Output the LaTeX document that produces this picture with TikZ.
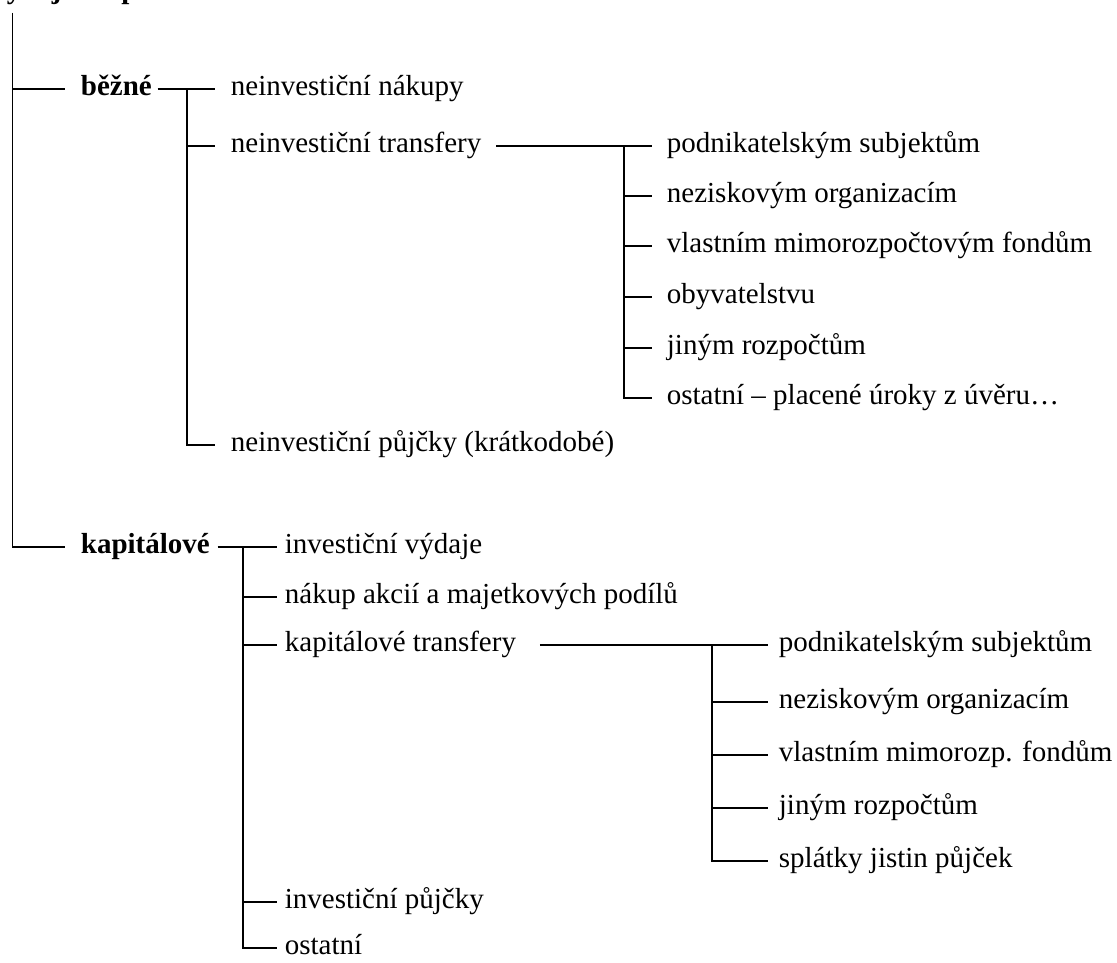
\documentclass[tikz,border=0pt]{standalone}
\usepackage{fontspec}
\setmainfont{Liberation Serif}
\begin{document}
\fontsize{29}{35}\selectfont
\begin{tikzpicture}[x=1pt, y=-1pt, line width=1.8pt,
		every node/.style={inner sep=0pt, anchor=mid west},
		head/.style={font=\bfseries}]
		\useasboundingbox (0,0) rectangle (1117,963);
		\clip (0,0) rectangle (1117,963);
		\node[head, anchor=base west] (title) at (-15,-1) {Výdaje rozpočtu};
		\coordinate (root) at (12.5,13);
		\node[head] (bez) at (80,89) {běžné};
		\node (n1) at (230,89) {neinvestiční nákupy};
		\node (n2) at (230,146) {neinvestiční transfery};
		\node (n3) at (230,445) {neinvestiční půjčky (krátkodobé)};
		\coordinate (bj) at (187,89);
		\node (p1) at (666,146) {podnikatelským subjektům};
		\node (p2) at (666,196) {neziskovým organizacím};
		\node (p3) at (666,246) {vlastním mimorozpočtovým fondům};
		\node (p4) at (666,297) {obyvatelstvu};
		\node (p5) at (666,348) {jiným rozpočtům};
		\node (p6) at (666,398) {ostatní – placené úroky z úvěru…};
		\coordinate (pj) at (624,146);
		\node[head] (kap) at (80,547) {kapitálové};
		\node (k1) at (284,547) {investiční výdaje};
		\node (k2) at (284,597) {nákup akcií a majetkových podílů};
		\node (k3) at (284,645) {kapitálové transfery};
		\node (k4) at (284,902) {investiční půjčky};
		\node (k5) at (284,948) {ostatní};
		\coordinate (kj) at (243,547);
		\node (q1) at (778,645) {podnikatelským subjektům};
		\node (q2) at (778,702) {neziskovým organizacím};
		\node (q3) at (778,755) {vlastním mimorozp. fondům};
		\node (q4) at (778,808) {jiným rozpočtům};
		\node (q5) at (778,861) {splátky jistin půjček};
		\coordinate (qj) at (712,645);
		\draw[shorten >=15pt] (root) |- (bez.mid west);
		\draw[shorten >=15pt] (root) |- (kap.mid west);
		\draw[shorten <=5pt, shorten >=15pt] (bez.mid east) -- (n1.mid west);
		\foreach \n in {n2,n3} \draw[shorten >=15pt] (bj) |- (\n.mid west);
		\draw[shorten <=14pt, shorten >=14pt] (n2.mid east) -- (p1.mid west);
		\foreach \i in {2,...,6} \draw[shorten >=14pt] (pj) |- (p\i.mid west);
		\draw[shorten <=7pt, shorten >=7pt] (kap.mid east) -- (k1.mid west);
		\foreach \i in {2,...,5} \draw[shorten >=7pt] (kj) |- (k\i.mid west);
		\draw[shorten <=23pt, shorten >=10pt] (k3.mid east) -- (q1.mid west);
		\foreach \i in {2,...,5} \draw[shorten >=10pt] (qj) |- (q\i.mid west);
	\end{tikzpicture}
\end{document}
